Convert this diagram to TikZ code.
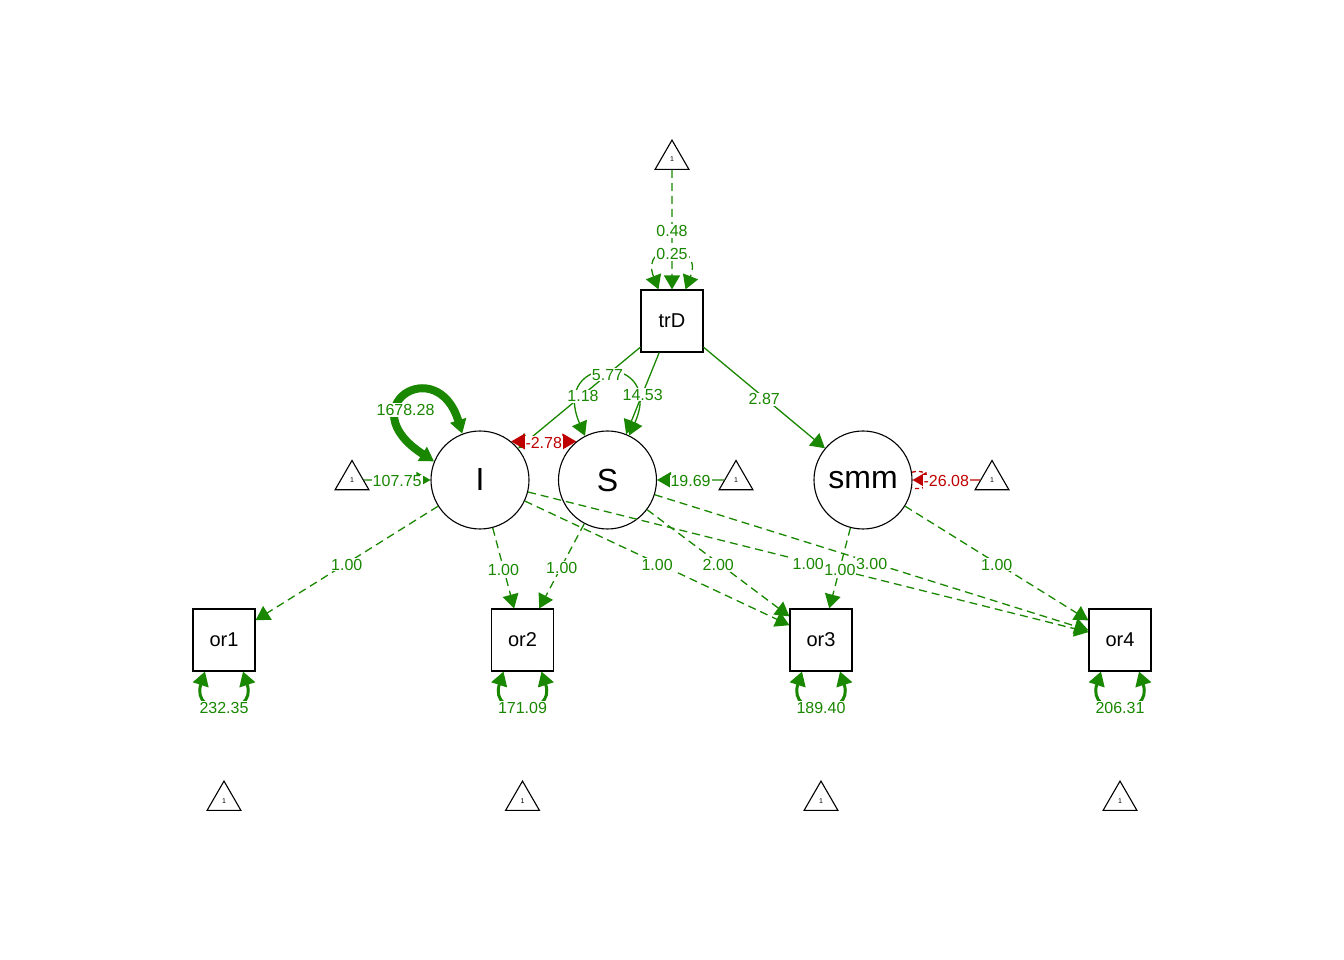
\documentclass[tikz,border=0pt]{standalone}
\usepackage{fontspec}
\setmainfont{Liberation Sans}
\usetikzlibrary{arrows.meta,shapes.geometric}
\definecolor{sgreen}{RGB}{25,135,0}
\definecolor{sred}{RGB}{191,0,0}
\tikzset{
  >={Triangle[length=14pt,width=16pt]},
  latent/.style={circle,draw,line width=1.1pt,minimum size=98pt,inner sep=0pt,font=\fontsize{32}{34}\selectfont},
  manifest/.style={rectangle,draw,line width=1.1pt,minimum size=62pt,inner sep=0pt,font=\fontsize{20}{22}\selectfont},
  const/.style={regular polygon,regular polygon sides=3,draw,line width=1.1pt,minimum size=39pt,inner sep=0pt,font=\fontsize{7}{8}\selectfont},
  poseffect/.style={color=sgreen,line width=1.3pt,->},
  negeffect/.style={color=sred,line width=1.3pt,->},
  fixedpar/.style={dash pattern=on 8pt off 5pt},
  elabel/.style={pos=.5,yshift=-1.5pt,fill=white,inner sep=1pt,font=\fontsize{16}{18}\selectfont}
}
\begin{document}
\begin{tikzpicture}[x=1pt,y=1pt]
	\useasboundingbox (0,0) rectangle (1344,960);
	% nodes
	\node[const] (t0) at (672,800.4) {1};
	\node[manifest] (trD) at (672,639) {trD};
	\node[latent] (I) at (480,480) {I};
	\node[latent] (S) at (607.5,480) {S};
	\node[latent] (smm) at (863,480) {smm};
	\node[const] (tI) at (352,480) {1};
	\node[const] (tS) at (736,480) {1};
	\node[const] (tsmm) at (992,480) {1};
	\node[manifest] (or1) at (224,320) {or1};
	\node[manifest] (or2) at (522.5,320) {or2};
	\node[manifest] (or3) at (821,320) {or3};
	\node[manifest] (or4) at (1120,320) {or4};
	\node[const] (b1) at (224,159.4) {1};
	\node[const] (b2) at (522.5,159.4) {1};
	\node[const] (b3) at (821,159.4) {1};
	\node[const] (b4) at (1120,159.4) {1};
	% loadings
	\draw[poseffect,fixedpar] (I) -- (or1) node[elabel]{1.00};
	\draw[poseffect,fixedpar] (I) -- (or2) node[elabel]{1.00};
	\draw[poseffect,fixedpar] (S) -- (or2) node[elabel]{1.00};
	\draw[poseffect,fixedpar] (I) -- (or3) node[elabel]{1.00};
	\draw[poseffect,fixedpar] (S) -- (or3) node[elabel]{2.00};
	\draw[poseffect,fixedpar] (I) -- (or4) node[elabel]{1.00};
	\draw[poseffect,fixedpar] (S) -- (or4) node[elabel]{3.00};
	\draw[poseffect,fixedpar] (smm) -- (or4) node[elabel]{1.00};
	\draw[poseffect,fixedpar] (smm) -- (or3) node[elabel]{1.00};
	% residuals
	\draw[poseffect,<->,line width=3pt] ([xshift=-19pt]or1.south) .. controls +(-15,-46) and +(15,-46) .. ([xshift=19pt]or1.south) node[elabel]{232.35};
	\draw[poseffect,<->,line width=3pt] ([xshift=-19pt]or2.south) .. controls +(-15,-46) and +(15,-46) .. ([xshift=19pt]or2.south) node[elabel]{171.09};
	\draw[poseffect,<->,line width=3pt] ([xshift=-19pt]or3.south) .. controls +(-15,-46) and +(15,-46) .. ([xshift=19pt]or3.south) node[elabel]{189.40};
	\draw[poseffect,<->,line width=3pt] ([xshift=-19pt]or4.south) .. controls +(-15,-46) and +(15,-46) .. ([xshift=19pt]or4.south) node[elabel]{206.31};
	% trD
	\draw[poseffect,fixedpar] (t0) -- (trD) node[elabel]{0.48};
	\draw[poseffect,fixedpar,<->] ([xshift=-13.5pt]trD.north) .. controls +(-19,49) and +(19,49) .. ([xshift=13.5pt]trD.north) node[elabel]{0.25};
	\draw[poseffect] (trD) -- (I);
	\draw[poseffect,<->] (S.117) .. controls +(-36,83) and +(37,83) .. (S.64) node[elabel]{5.77};
	\draw[poseffect] (trD) -- (S) node[elabel]{14.53};
	\draw[poseffect] (trD) -- (smm) node[elabel]{2.87};
	\path[color=sgreen] (trD) -- (I) node[elabel,pos=.47]{1.18};
	% latent variances and means
	\draw[poseffect,<->,line width=8pt] (I.158) .. controls +(-85,55) and +(-25,82) .. (I.111) node[elabel,pos=.36,xshift=7pt]{1678.28};
	\draw[negeffect,<->] (I.51) -- (S.129) node[elabel]{-2.78};
	\draw[poseffect] (tI) -- (I) node[elabel]{107.75};
	\draw[poseffect] (tS) -- (S) node[elabel]{19.69};
	\draw[color=sred,line width=1.3pt,dash pattern=on 4pt off 3pt] (smm.9) .. controls +(22,6) and +(22,-6) .. (smm.-9);
	\draw[negeffect] (tsmm) -- (smm) node[elabel]{-26.08};
\end{tikzpicture}
\end{document}
